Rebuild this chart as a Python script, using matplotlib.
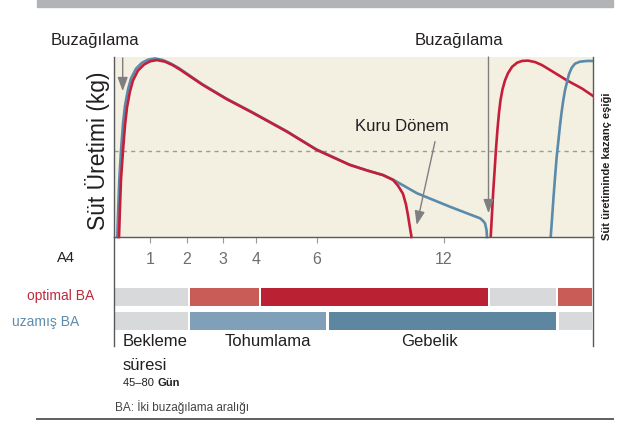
import matplotlib
matplotlib.use("Agg")
import matplotlib.pyplot as plt

# days after first calving, milk yield in relative units (0-100)
red1_day = [2, 3, 4, 6, 8, 10, 13, 16, 21, 27, 33, 40, 48, 56, 63, 75, 86, 110,
            136, 170, 200, 233, 250, 266, 276, 281, 286, 289, 291, 293, 294.5]
red1_val = [0, 17, 32, 48, 62, 72, 81, 87, 92.5, 95.8, 97.6, 98.3, 97.4, 95.4, 93,
            88.5, 84.4, 76.5, 68.9, 58.5, 48.3, 40, 37, 34.4, 31.7, 28.5, 24, 18,
            12, 5, 0]

blue1_day = [0.3, 1.3, 2.3, 4, 6, 8, 11, 14, 19, 25, 31, 38, 46, 54, 62, 74, 85,
             109, 135, 169, 199, 232, 250, 266, 276, 300, 333, 363, 366, 368,
             369.5, 370]
blue1_val = [0, 17, 32, 48, 63, 73, 82, 88, 93.5, 96.8, 98.5, 99.2, 98.3, 96.3,
             93.8, 89.2, 85, 77, 69.4, 59, 48.8, 40.3, 37, 34.4, 31.9, 24.3, 16.8,
             10.4, 9, 7.6, 4, 0]

red2_day = [373.7, 375, 376.3, 377.5, 379, 380.5, 382, 383.5, 385.5, 388, 391,
            395, 400, 405, 411, 418, 425, 433, 450, 465, 477]
red2_val = [0, 13, 26, 36, 49, 60, 69, 76, 82, 87, 91, 94.5, 96.8, 97.8, 98,
            97.2, 95.5, 92.8, 87, 82.5, 78]

blue2_day = [433.7, 435, 436.5, 438, 439.7, 441.5, 443, 444.5, 446.3, 448, 449.7,
             452, 454.7, 458, 463, 470, 477]
blue2_val = [0, 10, 22, 33, 44.6, 54, 62, 69, 76, 81.5, 85.4, 90.5, 94, 96.3,
             97.4, 97.8, 97.8]

threshold = 48

tick_days = [33, 70, 106, 139, 200, 327]
tick_labels = ["1", "2", "3", "4", "6", "12"]

optimal_start = [-3, 72, 143, 372, 440]
optimal_end = [72, 143, 372, 440, 476]
uzamis_start = [-3, 72, 210.5, 440.5]
uzamis_end = [72, 210.5, 440.5, 476]

optimal_colors = ["#d8d9db", "#c95c57", "#ba2234", "#d8d9db", "#c95c57"]
uzamis_colors = ["#d8d9db", "#7fa0b8", "#5d86a1", "#d8d9db"]

plt.rcParams["font.family"] = ["Liberation Sans", "DejaVu Sans"]

W, H = 627, 422


def fx(x):
    return x / W


def fy(y):
    return 1 - y / H


fig = plt.figure(figsize=(6.27, 4.22), dpi=100)

# top grey band
fig.patches.append(plt.Rectangle((fx(37), fy(7.3)), fx(613) - fx(37), 7.3 / H,
                                 transform=fig.transFigure, color="#b1b3b6"))
# bottom rule
fig.add_artist(plt.Line2D([fx(37), fx(613)], [fy(419), fy(419)],
                          color="#5e5f61", lw=1.4))

axis_col = "#58595b"
ax = fig.add_axes([fx(114), fy(237), (593 - 114) / W, (237 - 57) / H])
ax.set_facecolor("#f3f0e2")
ax.set_xlim(-3, 476)
ax.set_ylim(0, 100)
ax.spines["top"].set_visible(False)
for s in ["left", "right", "bottom"]:
    ax.spines[s].set_color(axis_col)
    ax.spines[s].set_linewidth(1)
ax.set_yticks([])
ax.set_xticks(tick_days)
ax.set_xticklabels(tick_labels)
ax.tick_params(axis="x", direction="out", length=4, width=0.8, color="#9a9a9a",
               labelcolor="#6d6e71", labelsize=11.5, pad=6.5)

ax.axhline(threshold, color="#9b9b9b", lw=1, ls=(0, (3, 3)))

ax.plot(blue1_day, blue1_val, color="#5a8baa", lw=1.9, clip_on=False)
ax.plot(red1_day, red1_val, color="#c41e3a", lw=1.9, clip_on=False)
ax.plot(red2_day, red2_val, color="#c41e3a", lw=1.9)
ax.plot(blue2_day, blue2_val, color="#5a8baa", lw=1.9)

arrow = dict(arrowstyle="-|>,head_length=0.6,head_width=0.22", color="#7f7f7f",
             lw=1, mutation_scale=14, shrinkA=0, shrinkB=0)
ax.annotate("", xy=(5.7, 81), xytext=(5.7, 99.5), arrowprops=arrow)
ax.annotate("", xy=(371.5, 13.2), xytext=(371.5, 100), arrowprops=arrow)
ax.annotate("", xy=(299.7, 6.7), xytext=(318, 53), arrowprops=arrow)
ax.text(285, 61.3, "Kuru Dönem", ha="center", va="center", fontsize=12,
        color="#231f20")

# bars
bx = fig.add_axes([fx(114), fy(346), (593 - 114) / W, (346 - 237) / H])
bx.set_xlim(-3, 476)
bx.set_ylim(109, 0)
bx.patch.set_visible(False)
bx.set_xticks([])
bx.set_yticks([])
for s in ["top", "bottom"]:
    bx.spines[s].set_visible(False)
for s in ["left", "right"]:
    bx.spines[s].set_color(axis_col)
    bx.spines[s].set_linewidth(1)
gap = 1.4
for a, b, c in zip(optimal_start, optimal_end, optimal_colors):
    a0 = max(a + gap, -2)
    b0 = min(b - gap, 476)
    bx.barh(59.7, b0 - a0, left=a0, height=18, color=c)
for a, b, c in zip(uzamis_start, uzamis_end, uzamis_colors):
    a0 = max(a + gap, -2)
    b0 = min(b - gap, 476)
    bx.barh(84, b0 - a0, left=a0, height=18.3, color=c)

dark = "#231f20"
fig.text(fx(94.7), fy(40), "Buzağılama", ha="center", va="center", fontsize=12,
         color=dark)
fig.text(fx(459), fy(40), "Buzağılama", ha="center", va="center", fontsize=12,
         color=dark)
fig.text(fx(97), fy(150.5), "Süt Üretimi (kg)", ha="center", va="center",
         rotation=90, fontsize=16.5, color=dark)
fig.text(fx(607), fy(166.7), "Süt üretiminde kazanç eşiği", ha="center",
         va="center", rotation=90, fontsize=8, fontweight="bold", color=dark)
fig.text(fx(66), fy(258), "A4", ha="center", va="center", fontsize=10.5,
         color=dark)
fig.text(fx(94), fy(296), "optimal BA", ha="right", va="center", fontsize=10,
         color="#c1283b")
fig.text(fx(79), fy(322), "uzamış BA", ha="right", va="center", fontsize=10,
         color="#5f8cab")
fig.text(fx(123), fy(342), "Bekleme", ha="left", va="center", fontsize=12,
         color=dark)
fig.text(fx(123), fy(365), "süresi", ha="left", va="center", fontsize=12,
         color=dark)
t = fig.text(fx(123), fy(383), "45–80 ", ha="left", va="center", fontsize=8,
             color=dark)
fig.canvas.draw()
bb = t.get_window_extent()
fig.text(bb.x1 / fig.bbox.width, fy(383), "Gün", ha="left", va="center",
         fontsize=8, fontweight="bold", color=dark)
fig.text(fx(268), fy(342), "Tohumlama", ha="center", va="center", fontsize=12,
         color=dark)
fig.text(fx(429), fy(342), "Gebelik", ha="center", va="center", fontsize=12,
         color=dark)
fig.text(fx(115), fy(407), "BA: İki buzağılama aralığı", ha="left", va="center",
         fontsize=8.5, color="#444444")

fig.savefig("out.png", dpi=100)
